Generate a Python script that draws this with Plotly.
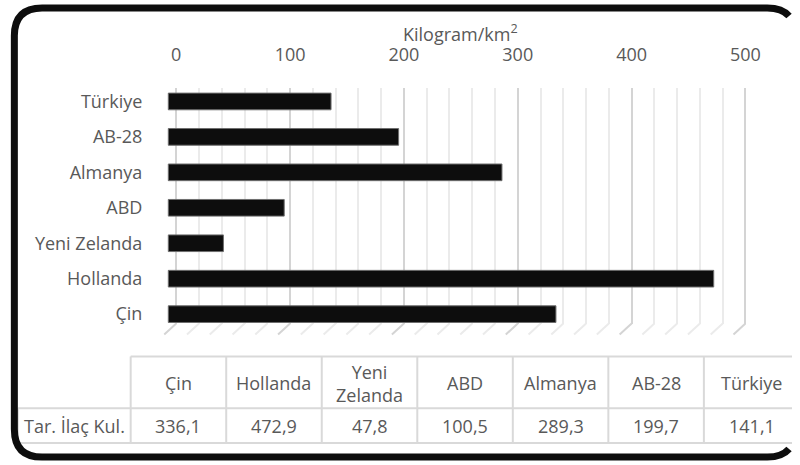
import math

import plotly.graph_objects as go

# data
countries = ["Çin", "Hollanda", "Yeni Zelanda", "ABD", "Almanya", "AB-28", "Türkiye"]
values = [336.1, 472.9, 47.8, 100.5, 289.3, 199.7, 141.1]
header_labels = ["Çin", "Hollanda", "Yeni<br>Zelanda", "ABD", "Almanya", "AB-28", "Türkiye"]
row_label = "Tar. İlaç Kul."
axis_title = "Kilogram/km<sup>2</sup>"
grid_ticks = list(range(0, 501, 20))

W, H = 800, 465
FONT = "Open Sans"
GREY = "#595959"
LINE = "#d9d9d9"


def px(x):
    return x / W


def py(y):
    return 1 - y / H


fig = go.Figure()

# empty trace so the gridline axis (x / y) exists
fig.add_trace(go.Scatter(x=[], y=[], xaxis="x", yaxis="y", showlegend=False,
                         hoverinfo="skip"))

fig.add_trace(go.Bar(
    x=values, y=countries, orientation="h",
    xaxis="x2", yaxis="y",
    width=0.47,
    marker=dict(color="#0d0d0d", line=dict(color="#6e6e6e", width=1)),
    showlegend=False,
))

shapes = []
annotations = []

# slanted "floor" ends of the gridlines
for t in grid_ticks:
    shapes.append(dict(
        type="line", xref="x", yref="y domain",
        xsizemode="pixel", xanchor=t, x0=0, x1=-12,
        ysizemode="pixel", yanchor=0, y0=0, y1=-11,
        line=dict(color="#d4d4d4" if t % 100 == 0 else "#ebebeb", width=2),
        layer="below",
    ))

# axis title
annotations.append(dict(
    text=axis_title, xref="x", yref="paper", x=250, y=py(33),
    showarrow=False, xanchor="center", yanchor="middle",
    font=dict(family=FONT, size=18, color=GREY)))

# data table below the chart (cut by the right edge like the original)
tab_left, first_w, col_w = 18, 114, 96.5
tab_top, tab_mid, tab_bot = 358, 410, 445
edges = [tab_left + first_w + i * col_w for i in range(len(countries) + 1)]
x_end = 800


def hline(y, x0, x1):
    return dict(type="line", xref="paper", yref="paper",
                x0=px(x0), x1=px(x1), y0=py(y), y1=py(y),
                line=dict(color=LINE, width=2))


def vline(x, y0, y1):
    return dict(type="line", xref="paper", yref="paper",
                x0=px(x), x1=px(x), y0=py(y0), y1=py(y1),
                line=dict(color=LINE, width=2))


shapes.append(hline(tab_top, edges[0], x_end))
shapes.append(hline(tab_mid, tab_left, x_end))
shapes.append(hline(tab_bot, tab_left, x_end))
shapes.append(vline(tab_left, tab_mid, tab_bot))
for e in edges:
    if e < x_end:
        shapes.append(vline(e, tab_top, tab_bot))

annotations.append(dict(
    text=row_label, xref="paper", yref="paper",
    x=px(tab_left + first_w / 2), y=py((tab_mid + tab_bot) / 2),
    showarrow=False, xanchor="center", yanchor="middle",
    font=dict(family=FONT, size=18, color=GREY)))
for i, (lab, v) in enumerate(zip(header_labels, values)):
    cx = px((edges[i] + edges[i + 1]) / 2)
    annotations.append(dict(
        text=lab, xref="paper", yref="paper", x=cx,
        y=py((tab_top + tab_mid) / 2 + 1),
        showarrow=False, xanchor="center", yanchor="middle",
        font=dict(family=FONT, size=18, color=GREY)))
    annotations.append(dict(
        text=f"{v:.1f}".replace(".", ","), xref="paper", yref="paper", x=cx,
        y=py((tab_mid + tab_bot) / 2),
        showarrow=False, xanchor="center", yanchor="middle",
        font=dict(family=FONT, size=18, color=GREY)))

# rounded black frame, open on the right (it runs past the picture edge)
l, t_, r, b, rad = 14.5, 8, 803, 459, 28
cut = 797.0
a = r - rad
tc = 1 - math.sqrt(1 - (cut - a) / rad)
qx = a + rad * tc
dy = rad * tc * tc


def P(x, y):
    return f"{px(x)},{py(y)}"


path = (f"M {P(cut, t_ + dy)} Q {P(qx, t_)} {P(a, t_)} "
        f"L {P(l + rad, t_)} Q {P(l, t_)} {P(l, t_ + rad)} "
        f"L {P(l, b - rad)} Q {P(l, b)} {P(l + rad, b)} "
        f"L {P(a, b)} Q {P(qx, b)} {P(cut, b - dy)}")
shapes.append(dict(type="path", xref="paper", yref="paper", path=path,
                   line=dict(color="#0d0d0d", width=7), layer="above"))

dom = [px(165), px(760)]
fig.update_layout(
    width=W, height=H,
    margin=dict(l=0, r=0, t=0, b=0),
    paper_bgcolor="white", plot_bgcolor="white",
    font=dict(family=FONT, size=18, color=GREY),
    shapes=shapes,
    annotations=annotations,
    xaxis=dict(
        domain=dom, anchor="y", side="top",
        range=[(165 - 178) / 1.15, (760 - 178) / 1.15],
        tick0=0, dtick=100, showgrid=True, gridcolor="#d4d4d4", gridwidth=2,
        minor=dict(dtick=20, showgrid=True, gridcolor="#ebebeb", gridwidth=2),
        zeroline=False, showline=False, ticks="",
        ticklabelstandoff=22,
        tickfont=dict(size=18, color=GREY),
        fixedrange=True,
    ),
    xaxis2=dict(
        overlaying="x", anchor="y", domain=dom,
        range=[(165 - 170) / 1.165, (760 - 170) / 1.165],
        visible=False, showgrid=False, zeroline=False,
    ),
    yaxis=dict(
        domain=[py(325), py(88)],
        categoryorder="array", categoryarray=countries,
        range=[-0.267, 6.39],
        showgrid=False, zeroline=False, showline=False, ticks="",
        ticklabelstandoff=20,
        tickfont=dict(size=18, color=GREY),
    ),
)

page_fix = ("document.documentElement.style.overflow='hidden';"
            "document.body.style.margin='0';"
            "document.body.style.overflow='hidden';")
fig.write_html("out.html", config={"displayModeBar": False},
               post_script=page_fix)
